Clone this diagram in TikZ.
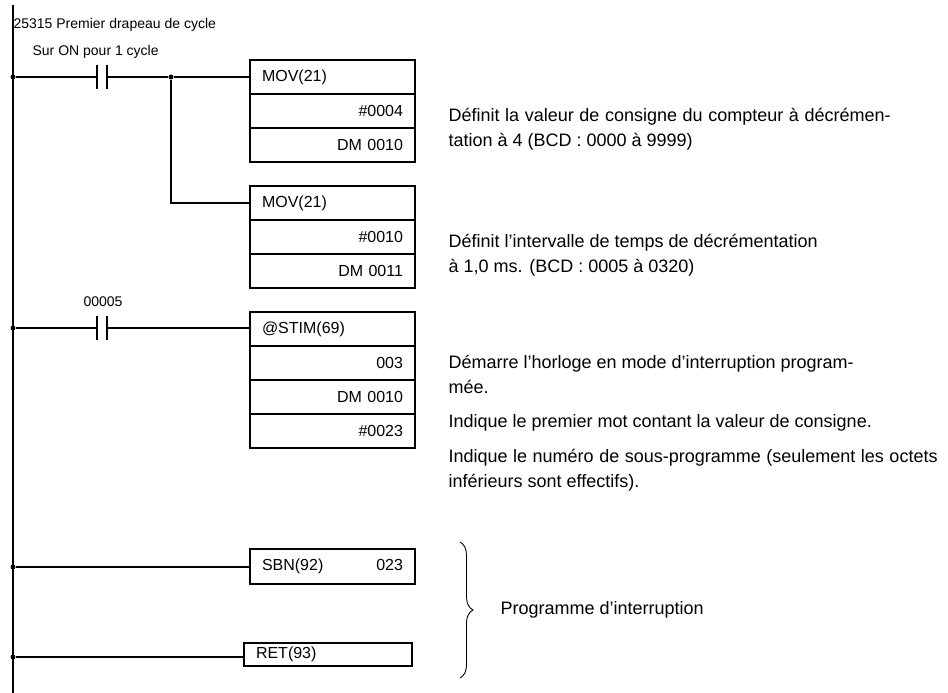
\documentclass[tikz,border=0pt]{standalone}
\usepackage{fontspec}
\setmainfont{Liberation Sans}
\usetikzlibrary{positioning,decorations.pathreplacing}

\begin{document}
\begin{tikzpicture}
	[x=1pt,y=-1pt,line width=1.2pt,
		cellL/.style={draw,minimum width=165pt,minimum height=34pt,inner xsep=12pt,text width=141pt,align=left,font=\fontsize{16}{18}\selectfont},
		cellR/.style={cellL,align=right},
		dot/.style={circle,fill,inner sep=0pt,minimum size=5pt},
		note/.style={anchor=west,inner sep=0pt,font=\fontsize{18}{25}\selectfont},
		tag/.style={anchor=west,inner sep=0pt,font=\fontsize{14}{16}\selectfont}]

	\useasboundingbox (0,0) rectangle (948,693);

	% rail
	\coordinate (top) at (13,5);
	\coordinate (bot) at (13,693);
	\draw (top) -- (bot);

	% texts over the first contact
	\node[tag] (t1) at (13,25) {25315 Premier drapeau de cycle};
	\node[tag] (t2) at (32,52) {Sur ON pour 1 cycle};
	\node[tag,anchor=center] (t3) at (103,302) {00005};

	% boxes
	\node[cellL] (A1) at (332.5,77)  {MOV(21)};
	\node[cellR] (A2) at (332.5,111) {\#0004};
	\node[cellR] (A3) at (332.5,145) {DM 0010};
	\node[cellL] (B1) at (332.5,203) {MOV(21)};
	\node[cellR] (B2) at (332.5,237) {\#0010};
	\node[cellR] (B3) at (332.5,271) {DM 0011};
	\node[cellL] (C1) at (332.5,329) {@STIM(69)};
	\node[cellR] (C2) at (332.5,363) {003};
	\node[cellR] (C3) at (332.5,397) {DM 0010};
	\node[cellR] (C4) at (332.5,431) {\#0023};
	\node[cellL,minimum height=35pt] (D1) at (332.5,566.5) {SBN(92)\hfill 023};
	\node[cellL,minimum width=168pt,minimum height=23pt,text width=144pt] (E1) at (328,654.5) {RET(93)};

	% rungs
	\node[dot] (r1) at (13,77) {};
	\node[dot] (r2) at (13,328) {};
	\node[dot] (r3) at (13,567) {};
	\node[dot] (r4) at (13,657) {};
	\node[dot] (j1) at (171,77) {};
	\coordinate (k1a) at (97,77);
	\coordinate (k1b) at (107,77);
	\coordinate (k2a) at (97,328);
	\coordinate (k2b) at (107,328);
	\coordinate (j2) at (171,203);

	\draw (r1) -- (k1a);
	\draw (k1b) -- (j1) -- (A1.west |- j1);
	\draw (j1) -- (j2) -- (B1.west);
	\draw (k1a) ++(0,-12) -- ++(0,24);
	\draw (k1b) ++(0,-12) -- ++(0,24);
	\draw (r2) -- (k2a);
	\draw (k2b) -- (C1.west |- k2b);
	\draw (k2a) ++(0,-12) -- ++(0,24);
	\draw (k2b) ++(0,-12) -- ++(0,24);
	\draw (r3) -- (D1.west |- r3);
	\draw (r4) -- (E1.west |- r4);

	% comments
	\node[note,text width=442pt,align=justify] (n1) at (448,129)
		{Définit la valeur de consigne du compteur à décrémentation à 4 (BCD : 0000 à 9999)};
	\node[note,align=left] (n2) at (448,255)
		{Définit l’intervalle de temps de décrémentation\\à 1,0 ms. (BCD : 0005 à 0320)};
	\node[note,text width=489pt,align=justify] (n3) at (448,374)
		{Démarre l’horloge en mode d’interruption program-\\mée.};
	\node[note] (n4) at (448,423) {Indique le premier mot contant la valeur de consigne.};
	\node[note,text width=489pt,align=justify] (n5) at (448,470)
		{Indique le numéro de sous-programme (seulement les octets inférieurs sont effectifs).};

	% brace
	\coordinate (b1) at (460,542);
	\coordinate (b2) at (460,678);
	\draw[line width=0.9pt,decoration={brace,amplitude=13pt},decorate] (b1) -- (b2);
	\node[note] (n6) at (500,610) {Programme d’interruption};

\end{tikzpicture}
\end{document}
